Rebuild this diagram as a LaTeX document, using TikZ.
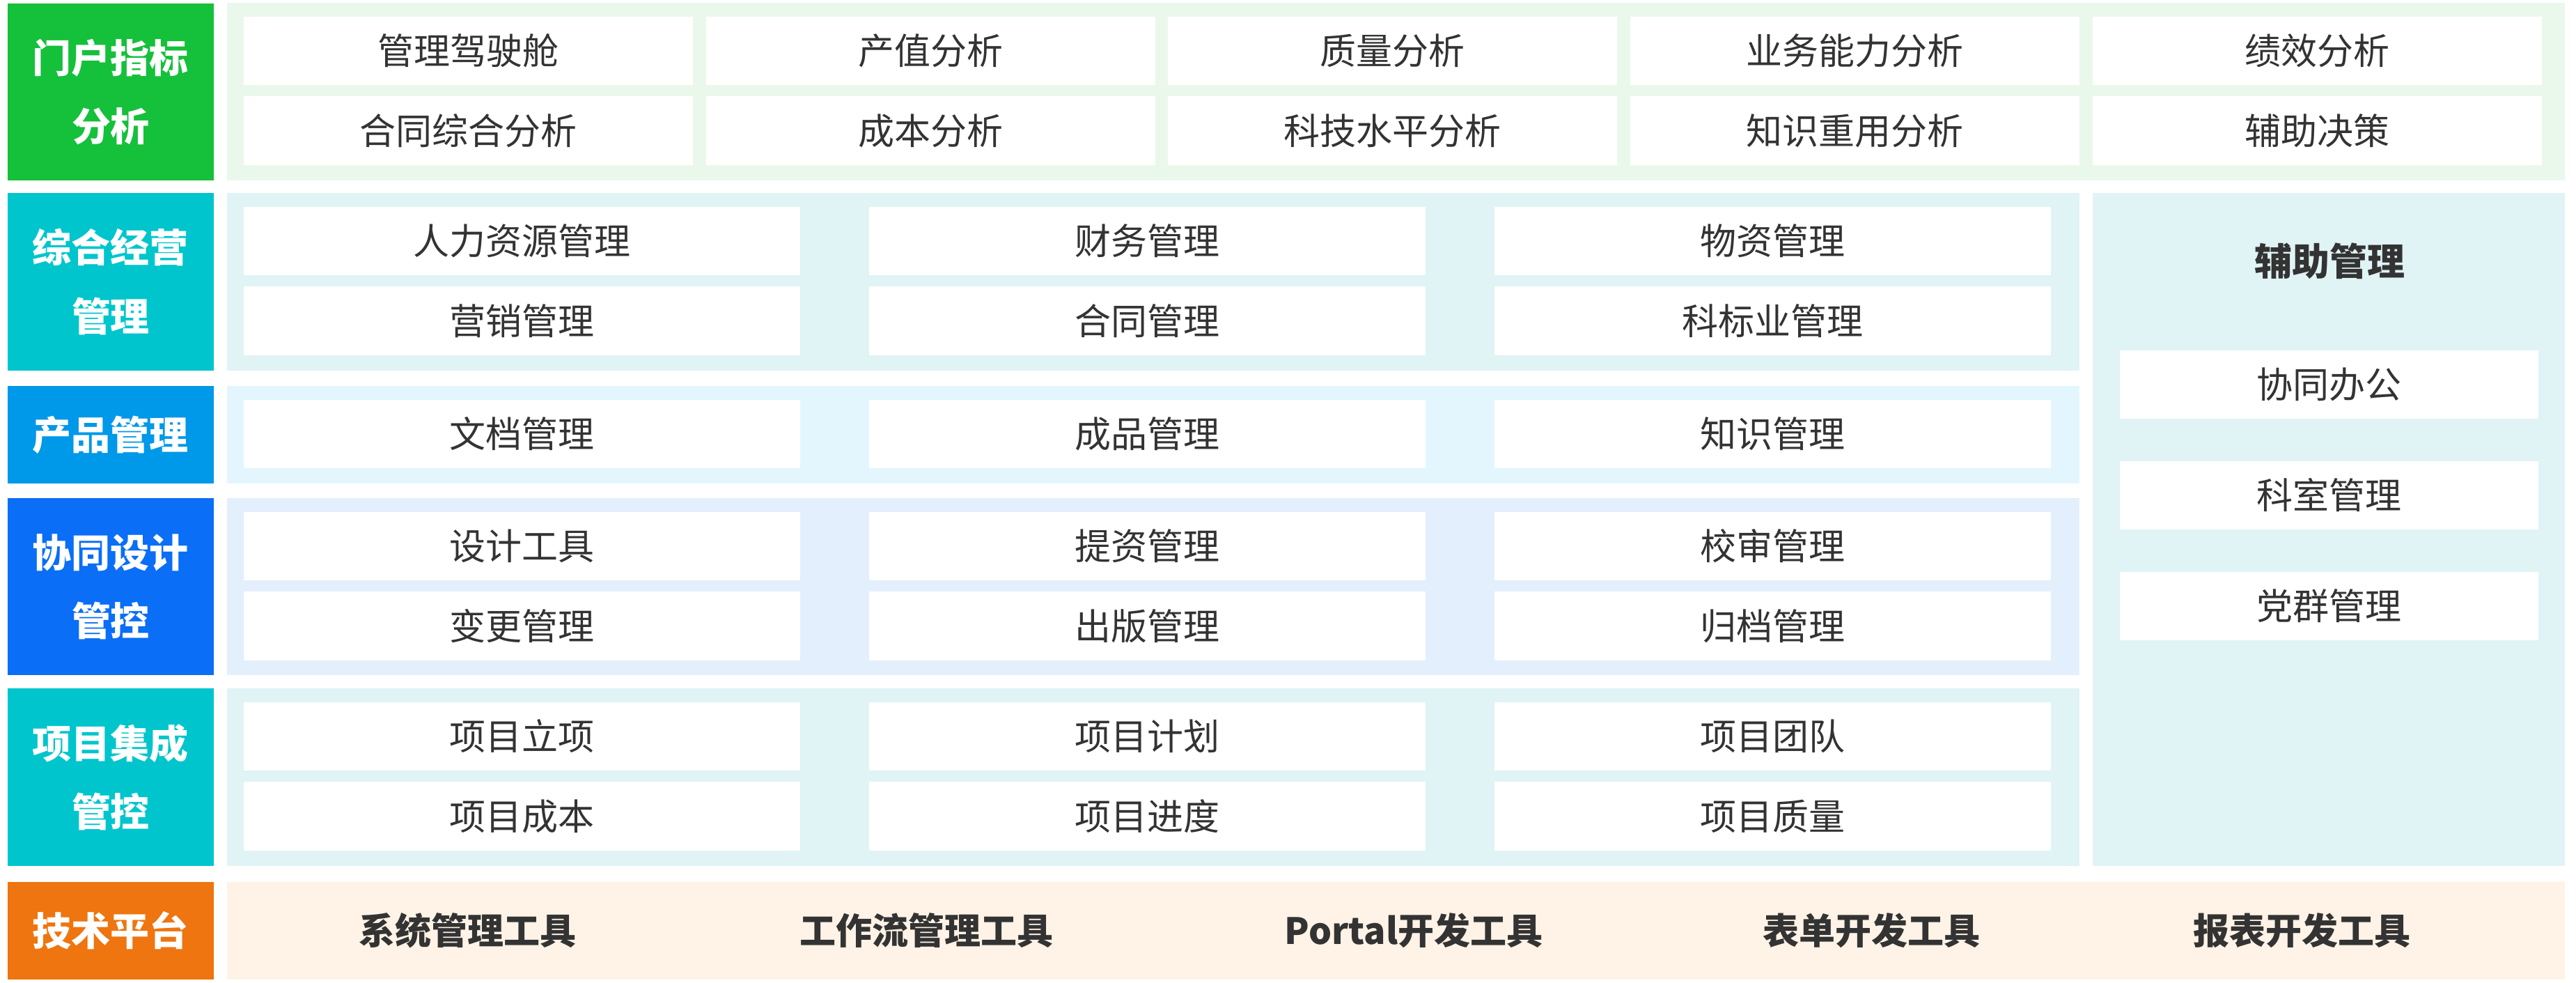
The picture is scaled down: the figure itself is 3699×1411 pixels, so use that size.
\documentclass[tikz,border=0pt]{standalone}
\usepackage{fontspec}
\setmainfont{Noto Sans CJK SC}
\definecolor{txt}{HTML}{333333}
\definecolor{cgreen}{HTML}{15C03B}
\definecolor{bgreen}{HTML}{EAF8EC}
\definecolor{cteal}{HTML}{00C5CD}
\definecolor{bteal}{HTML}{E0F3F5}
\definecolor{cblue}{HTML}{0098E8}
\definecolor{bblue}{HTML}{E3F6FD}
\definecolor{cdblue}{HTML}{0A6EF6}
\definecolor{bdblue}{HTML}{E3EFFC}
\definecolor{corange}{HTML}{EE750F}
\definecolor{borange}{HTML}{FEF3E6}
\newcommand\RB[7]{\node[#1, minimum width={(#5-#3)*0.25pt}, minimum height={(#6-#4)*0.25pt}] (#2) at ({(#3+#5)/2},{(#4+#6)/2}) {#7};}
\begin{document}
\begin{tikzpicture}[x=0.25pt,y=-0.25pt,
  panel/.style={inner sep=0pt, outer sep=0pt, draw=none},
  cell/.style={panel, fill=white, text=txt, font=\fontsize{13pt}{15pt}\selectfont},
  lab/.style={panel, text=white, align=center, font=\bfseries\fontsize{14pt}{24.6pt}\selectfont},
  tool/.style={inner sep=0pt, text=txt, font=\bfseries\fontsize{13pt}{15pt}\selectfont},
  ttl/.style={inner sep=0pt, text=txt, font=\bfseries\fontsize{13.5pt}{16pt}\selectfont}]
\useasboundingbox (0,0) rectangle (3699,1411);
% section 1
\RB{lab,fill=cgreen}{L1}{11}{5}{307}{259}{门户指标\\分析}
\RB{panel,fill=bgreen}{B1}{326}{4}{3683}{259}{}
\RB{cell}{a11}{350}{24}{995}{122}{管理驾驶舱}
\RB{cell}{a12}{1014}{24}{1659}{122}{产值分析}
\RB{cell}{a13}{1677}{24}{2322}{122}{质量分析}
\RB{cell}{a14}{2341}{24}{2986}{122}{业务能力分析}
\RB{cell}{a15}{3005}{24}{3650}{122}{绩效分析}
\RB{cell}{a21}{350}{138}{995}{237}{合同综合分析}
\RB{cell}{a22}{1014}{138}{1659}{237}{成本分析}
\RB{cell}{a23}{1677}{138}{2322}{237}{科技水平分析}
\RB{cell}{a24}{2341}{138}{2986}{237}{知识重用分析}
\RB{cell}{a25}{3005}{138}{3650}{237}{辅助决策}
% section 2
\RB{lab,fill=cteal}{L2}{11}{277}{307}{532}{综合经营\\管理}
\RB{panel,fill=bteal}{B2}{326}{277}{2986}{532}{}
\RB{cell}{b11}{350}{297}{1149}{395}{人力资源管理}
\RB{cell}{b12}{1248}{297}{2047}{395}{财务管理}
\RB{cell}{b13}{2146}{297}{2945}{395}{物资管理}
\RB{cell}{b21}{350}{411}{1149}{510}{营销管理}
\RB{cell}{b22}{1248}{411}{2047}{510}{合同管理}
\RB{cell}{b23}{2146}{411}{2945}{510}{科标业管理}
% section 3
\RB{lab,fill=cblue}{L3}{11}{554}{307}{694}{产品管理}
\RB{panel,fill=bblue}{B3}{326}{554}{2986}{694}{}
\RB{cell}{c11}{350}{574}{1149}{672}{文档管理}
\RB{cell}{c12}{1248}{574}{2047}{672}{成品管理}
\RB{cell}{c13}{2146}{574}{2945}{672}{知识管理}
% section 4
\RB{lab,fill=cdblue}{L4}{11}{715}{307}{969}{协同设计\\管控}
\RB{panel,fill=bdblue}{B4}{326}{715}{2986}{969}{}
\RB{cell}{d11}{350}{735}{1149}{833}{设计工具}
\RB{cell}{d12}{1248}{735}{2047}{833}{提资管理}
\RB{cell}{d13}{2146}{735}{2945}{833}{校审管理}
\RB{cell}{d21}{350}{849}{1149}{948}{变更管理}
\RB{cell}{d22}{1248}{849}{2047}{948}{出版管理}
\RB{cell}{d23}{2146}{849}{2945}{948}{归档管理}
% section 5
\RB{lab,fill=cteal}{L5}{11}{988}{307}{1243}{项目集成\\管控}
\RB{panel,fill=bteal}{B5}{326}{988}{2986}{1243}{}
\RB{cell}{e11}{350}{1008}{1149}{1106}{项目立项}
\RB{cell}{e12}{1248}{1008}{2047}{1106}{项目计划}
\RB{cell}{e13}{2146}{1008}{2945}{1106}{项目团队}
\RB{cell}{e21}{350}{1122}{1149}{1221}{项目成本}
\RB{cell}{e22}{1248}{1122}{2047}{1221}{项目进度}
\RB{cell}{e23}{2146}{1122}{2945}{1221}{项目质量}
% right panel
\RB{panel,fill=bteal}{R}{3005}{277}{3683}{1243}{}
\node[ttl] (Rt) at (3345,375) {辅助管理};
\RB{cell}{r1}{3044}{503}{3645}{601}{协同办公}
\RB{cell}{r2}{3044}{662}{3645}{760}{科室管理}
\RB{cell}{r3}{3044}{821}{3645}{919}{党群管理}
% section 6
\RB{lab,fill=corange}{L6}{11}{1266}{307}{1406}{技术平台}
\RB{panel,fill=borange}{B6}{326}{1266}{3683}{1406}{}
\node[tool] (t1) at (671,1336) {系统管理工具};
\node[tool] (t2) at (1330,1336) {工作流管理工具};
\node[tool] (t3) at (2030,1336) {Portal开发工具};
\node[tool] (t4) at (2687,1336) {表单开发工具};
\node[tool] (t5) at (3305,1336) {报表开发工具};
\end{tikzpicture}
\end{document}
